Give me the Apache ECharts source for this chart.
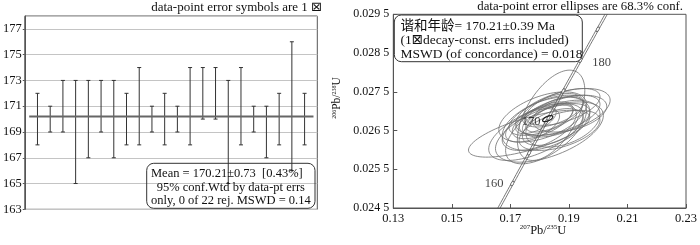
<!DOCTYPE html>
<html><head><meta charset="utf-8">
<script src="https://cdn.jsdelivr.net/npm/echarts@6/dist/echarts.min.js"></script>
<style>html,body{margin:0;padding:0;background:#fff}#c{width:700px;height:245px}</style>
</head><body><div id="c"></div>
<script>
// ---- left panel: weighted mean plot ----
const pointIndex = [1,2,3,4,5,6,7,8,9,10,11,12,13,14,15,16,17,18,19,20,21,22];
const ageLow  = [168,169,169,165,167,169,167,168,168,169,168,169,168,170,170,165,168,169,167,168,166,168];
const ageHigh = [172,171,173,173,173,173,173,172,174,171,172,171,174,174,174,173,174,171,171,172,176,172];
const meanAge = 170.21;
const meanSpan = [0.35, 22.7];

// ---- right panel: concordia ----
const ellCx  = [0.17643,0.18391,0.18795,0.18219,0.18219,0.18679,0.18103,0.18334,0.17988,0.18795,0.17873,0.18564,0.19025,0.18219,0.17758,0.18449,0.18103,0.18795,0.18334,0.17873,0.18679,0.18449];
const ellCy  = [0.026418,0.026893,0.026980,0.026677,0.026504,0.026893,0.026764,0.026807,0.026591,0.026677,0.026461,0.026764,0.026936,0.026893,0.026634,0.026591,0.026850,0.027109,0.026461,0.026764,0.026504,0.027023];
const ellAx  = [0.02074,0.01152,0.01613,0.01498,0.01382,0.01382,0.01037,0.00806,0.01267,0.01267,0.01613,0.01152,0.01267,0.01267,0.00922,0.01037,0.01498,0.01267,0.01843,0.00691,0.01382,0.01037];
const ellAy  = [0.000605,0.001166,0.000605,0.000691,0.000864,0.000518,0.000475,0.000346,0.000605,0.000605,0.000734,0.000432,0.000475,0.000518,0.000432,0.000475,0.000648,0.000475,0.000778,0.000346,0.000518,0.000432];
const ellRho = [0.70,0.55,0.50,0.45,0.60,0.55,0.60,0.60,0.55,0.40,0.60,0.50,0.40,0.60,0.55,0.50,0.50,0.55,0.55,0.60,0.50,0.50];
const concAgeEll = [0.18276, 0.026807, 0.00173, 0.0000778, 0.6];

const concAges = [155,160,165,170,175,180,185,190];
const concX  = [0.16492,0.17067,0.17645,0.18226,0.18809,0.19396,0.19985,0.20577];
const concY  = [0.024335,0.025131,0.025926,0.026722,0.027519,0.028316,0.029114,0.029913];
const concXLeft  = [0.16452,0.17027,0.17605,0.18186,0.18769,0.19356,0.19945,0.20537];
const concXRight = [0.16532,0.17107,0.17685,0.18266,0.18849,0.19436,0.20025,0.20617];
const labelledAges = [160,170,180];

const FONT = '"Liberation Serif","DejaVu Sans","Noto Sans CJK SC",serif';
const chart = echarts.init(document.getElementById('c'), null, {renderer:'canvas'});

const errData = pointIndex.map((x,i)=>[x, ageLow[i], ageHigh[i]]);
const ellData = ellCx.map((c,i)=>[c, ellCy[i], ellAx[i], ellAy[i], ellRho[i]]);
const markerData = concAges.map((a,i)=>({value:[concX[i], concY[i]], age:a})).filter(d=>d.value[1]>=0.0245 && d.value[1]<=0.0295);

function ellipseItem(params, api, stroke, lw){
  const cx=api.value(0), cy=api.value(1), ax=api.value(2), ay=api.value(3), r=api.value(4);
  const s=Math.sqrt(1-r*r); const pts=[];
  for(let k=0;k<=90;k++){const t=k/90*2*Math.PI;
    pts.push(api.coord([cx+ax*Math.cos(t), cy+ay*(r*Math.cos(t)+s*Math.sin(t))]));}
  return {type:'polyline', shape:{points:pts}, style:{stroke:stroke, fill:null, lineWidth:lw}};
}

const labelPos = {160:{position:'left',distance:6,offset:[0,0]},170:{position:'left',distance:3,offset:[0,0]},180:{position:'right',distance:9,offset:[0,3]}};

const option = {
  animation:false,
  textStyle:{fontFamily:FONT},
  grid:[
    {left:22.3, top:16, width:295, height:193.3, show:true, borderColor:'#555', borderWidth:1},
    {left:393.3, top:14.3, width:292.7, height:193.7, show:true, borderColor:'#555', borderWidth:1}
  ],
  xAxis:[
    {gridIndex:0, type:'value', min:0, max:23, axisLine:{show:false}, axisTick:{show:false}, axisLabel:{show:false}, splitLine:{show:false}},
    {gridIndex:1, type:'value', min:0.13, max:0.23, interval:0.02,
     axisLine:{show:true, lineStyle:{color:'#555'}}, axisTick:{show:true, inside:true, length:4, lineStyle:{color:'#555'}},
     axisLabel:{color:'#111', fontFamily:FONT, fontSize:12.5, margin:4, formatter:v=>v.toFixed(2)}, splitLine:{show:false}}
  ],
  yAxis:[
    {gridIndex:0, type:'value', min:163, max:178, interval:2,
     axisLine:{show:true, lineStyle:{color:'#555'}}, axisTick:{show:true, length:2, lineStyle:{color:'#555'}},
     axisLabel:{color:'#111', fontFamily:FONT, fontSize:12.5, margin:3, showMaxLabel:false,
       formatter:v=>(v%2===1?String(v):'')}, splitLine:{show:true, lineStyle:{color:'#c4c4c4', width:1}}},
    {gridIndex:1, type:'value', min:0.0245, max:0.0295, interval:0.001,
     axisLine:{show:true, lineStyle:{color:'#555'}}, axisTick:{show:true, inside:true, length:4, lineStyle:{color:'#555'}},
     axisLabel:{color:'#111', fontFamily:FONT, fontSize:12, margin:4, formatter:v=>{const s=v.toFixed(4);return s.slice(0,5)+' '+s.slice(5);}},
     splitLine:{show:false}}
  ],
  series:[
    {type:'custom', xAxisIndex:0, yAxisIndex:0, data:errData, encode:{x:0,y:[1,2]},
     renderItem:(params, api)=>{
       const lo=api.coord([api.value(0), api.value(1)]), hi=api.coord([api.value(0), api.value(2)]);
       const st={stroke:'#333', lineWidth:1};
       return {type:'group', children:[
         {type:'line', shape:{x1:lo[0],y1:lo[1],x2:hi[0],y2:hi[1]}, style:st},
         {type:'line', shape:{x1:lo[0]-2,y1:lo[1],x2:lo[0]+2,y2:lo[1]}, style:st},
         {type:'line', shape:{x1:hi[0]-2,y1:hi[1],x2:hi[0]+2,y2:hi[1]}, style:st}
       ]};
     }},
    {type:'line', xAxisIndex:0, yAxisIndex:0, data:meanSpan.map(x=>[x, meanAge]), showSymbol:false,
     lineStyle:{color:'#666', width:2}, z:3},
    {type:'custom', xAxisIndex:1, yAxisIndex:1, data:ellData, encode:{x:0,y:1},
     renderItem:(p,api)=>ellipseItem(p,api,'#6e6e6e',0.8)},
    {type:'line', xAxisIndex:1, yAxisIndex:1, data:concXLeft.map((x,i)=>[x, concY[i]]), showSymbol:false, smooth:true,
     lineStyle:{color:'#555', width:0.8}, z:4},
    {type:'line', xAxisIndex:1, yAxisIndex:1, data:concXRight.map((x,i)=>[x, concY[i]]), showSymbol:false, smooth:true,
     lineStyle:{color:'#555', width:0.8}, z:4},
    {type:'scatter', xAxisIndex:1, yAxisIndex:1, symbol:'circle', symbolSize:[5,2.5], symbolRotate:62,
     itemStyle:{color:'#fff', borderColor:'#444', borderWidth:0.8}, z:5,
     data:markerData.map(d=>{
       const o={value:d.value};
       if(labelledAges.includes(d.age)){
         const lp=labelPos[d.age];
         o.label={show:true, formatter:String(d.age), position:lp.position, distance:lp.distance, offset:lp.offset,
                  color:'#111', fontFamily:FONT, fontSize:12.5};
       }
       return o;
     })},
    {type:'custom', xAxisIndex:1, yAxisIndex:1, data:[concAgeEll], encode:{x:0,y:1}, z:6,
     renderItem:(p,api)=>ellipseItem(p,api,'#222',1.3)}
  ],
  graphic:[
    {type:'text', x:322, y:8, style:{text:'data-point error symbols are 1 \u22A0', font:'13px '+FONT, fill:'#111', align:'right', verticalAlign:'middle'}},
    {type:'text', x:683, y:7, style:{text:'data-point error ellipses are 68.3% conf.', font:'12.8px '+FONT, fill:'#111', align:'right', verticalAlign:'middle'}},
    {type:'rect', shape:{x:146.7, y:163.3, width:168.3, height:45, r:7}, style:{fill:null, stroke:'#333', lineWidth:1}, z:10},
    {type:'text', x:151, y:174, style:{text:'Mean = 170.21\u00B10.73  [0.43%]', font:'12.5px '+FONT, fill:'#111', align:'left', verticalAlign:'middle'}, z:11},
    {type:'text', x:156.7, y:187.7, style:{text:'95% conf.Wtd by data-pt errs', font:'12.5px '+FONT, fill:'#111', align:'left', verticalAlign:'middle'}, z:11},
    {type:'text', x:151, y:201, style:{text:'only, 0 of 22 rej. MSWD = 0.14', font:'12.5px '+FONT, fill:'#111', align:'left', verticalAlign:'middle'}, z:11},
    {type:'rect', shape:{x:394.3, y:15, width:188, height:46.7, r:7}, style:{fill:'#fff', stroke:'#333', lineWidth:1}, z:10},
    {type:'text', x:400.5, y:26, style:{text:'谐和年龄= 170.21\u00B10.39 Ma', font:'13.5px '+FONT, fill:'#111', align:'left', verticalAlign:'middle'}, z:11},
    {type:'text', x:400.5, y:40.5, style:{text:'(1\u22A0decay-const. errs included)', font:'13.5px '+FONT, fill:'#111', align:'left', verticalAlign:'middle'}, z:11},
    {type:'text', x:400.5, y:54, style:{text:'MSWD (of concordance) = 0.018', font:'13.5px '+FONT, fill:'#111', align:'left', verticalAlign:'middle'}, z:11},
    {type:'text', x:543, y:231, style:{text:'{s|207}{m|Pb/}{s|235}{m|U}', align:'center', verticalAlign:'middle',
       rich:{s:{fontSize:7, fontFamily:FONT, fill:'#111', verticalAlign:'top', lineHeight:14}, m:{fontSize:12.5, fontFamily:FONT, fill:'#111', lineHeight:14}}}},
    {type:'text', x:337, y:98, rotation:Math.PI/2, style:{text:'{s|206}{m|Pb/}{s|238}{m|U}', align:'center', verticalAlign:'middle',
       rich:{s:{fontSize:6, fontFamily:FONT, fill:'#111', verticalAlign:'top', lineHeight:12}, m:{fontSize:11.5, fontFamily:FONT, fill:'#111', lineHeight:12}}}}
  ]
};
chart.setOption(option);
</script></body></html>
